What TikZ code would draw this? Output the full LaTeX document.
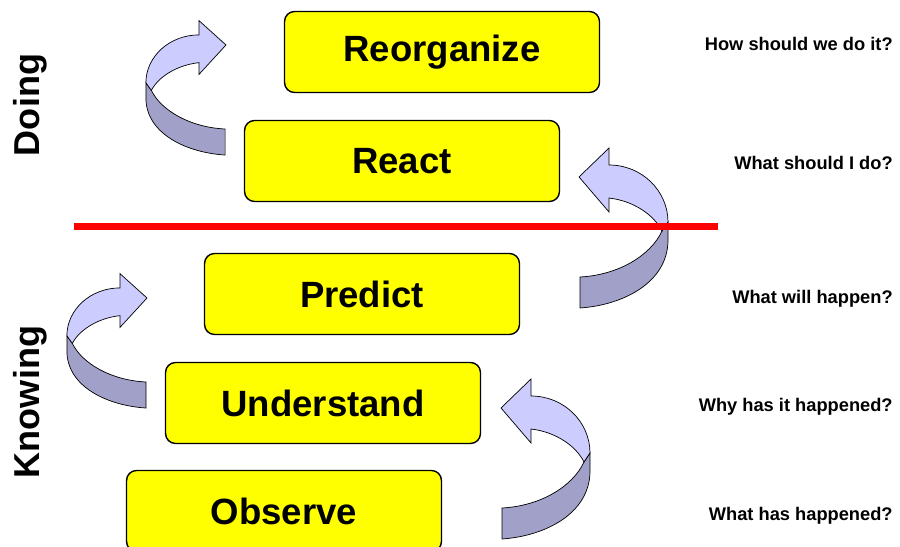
\documentclass[tikz,border=0pt]{standalone}
\usepackage{fontspec}
\setmainfont{Liberation Sans}
\usetikzlibrary{positioning}
\definecolor{boxyellow}{RGB}{255,255,0}
\definecolor{ribbonlight}{RGB}{204,204,255}
\definecolor{ribbondark}{RGB}{160,160,200}
\tikzset{
  stage/.style={draw=black, line width=0.8pt, fill=boxyellow, rounded corners=0.2cm,
    minimum width=6.3cm, minimum height=1.62cm, font=\fontsize{20.8}{24}\selectfont\bfseries},
  question/.style={anchor=east, inner sep=0pt, font=\fontsize{10.4}{12}\selectfont\bfseries},
  side/.style={rotate=90, font=\fontsize{20.5}{24}\selectfont\bfseries},
  twist/.pic={
    % lower (dark) half of the ribbon
    \filldraw[fill=ribbondark, draw=black, line width=0.4pt]
      (89,45) -- (89,63) .. controls (89,105) and (45,128) .. (1,131)
      -- (1,100) .. controls (40,98) and (72,78) .. (83,54) -- cycle;
    % upper (light) half with the head
    \filldraw[fill=ribbonlight, draw=black, line width=0.4pt]
      (0,0) -- (30,-29) -- (30,-12) .. controls (63,-12) and (89,14) .. (89,45)
      -- (83,54) .. controls (75,38) and (55,24) .. (30,21) -- (30,35) -- cycle;
  }
}
\begin{document}
\begin{tikzpicture}[x=0.02cm, y=-0.02cm]
    \useasboundingbox (0,0) rectangle (900,547);
    % stages
    \node[stage] (reorg) at (442,52) {Reorganize};
    \node[stage] (react) at (402,161) {React};
    \node[stage] (predict) at (362,294) {Predict};
    \node[stage] (underst) at (323,403) {Understand};
    \node[stage] (observe) at (284,511) {Observe};
    % twisted arrows
    \pic[xscale=-0.9, yscale=0.84] at (226,45) {twist};
    \pic at (579,177) {twist};
    \pic[xscale=-0.9, yscale=0.84] at (147,298) {twist};
    \pic at (501,408) {twist};
    % border between doing and knowing
    \draw[red, line width=0.14cm] (74,227) -- (718,227);
    % questions
    \node[question] (qreorg) at (893,44) {How should we do it?};
    \node[question] (qreact) at (893,163) {What should I do?};
    \node[question] (qpredict) at (893,299) {What will happen?};
    \node[question] (qunderst) at (893,407) {Why has it happened?};
    \node[question] (qobserve) at (893,516) {What has happened?};
    % sides
    \node[side] (doing) at (30,105) {Doing};
    \node[side] (knowing) at (30,402) {Knowing};
\end{tikzpicture}
\end{document}
